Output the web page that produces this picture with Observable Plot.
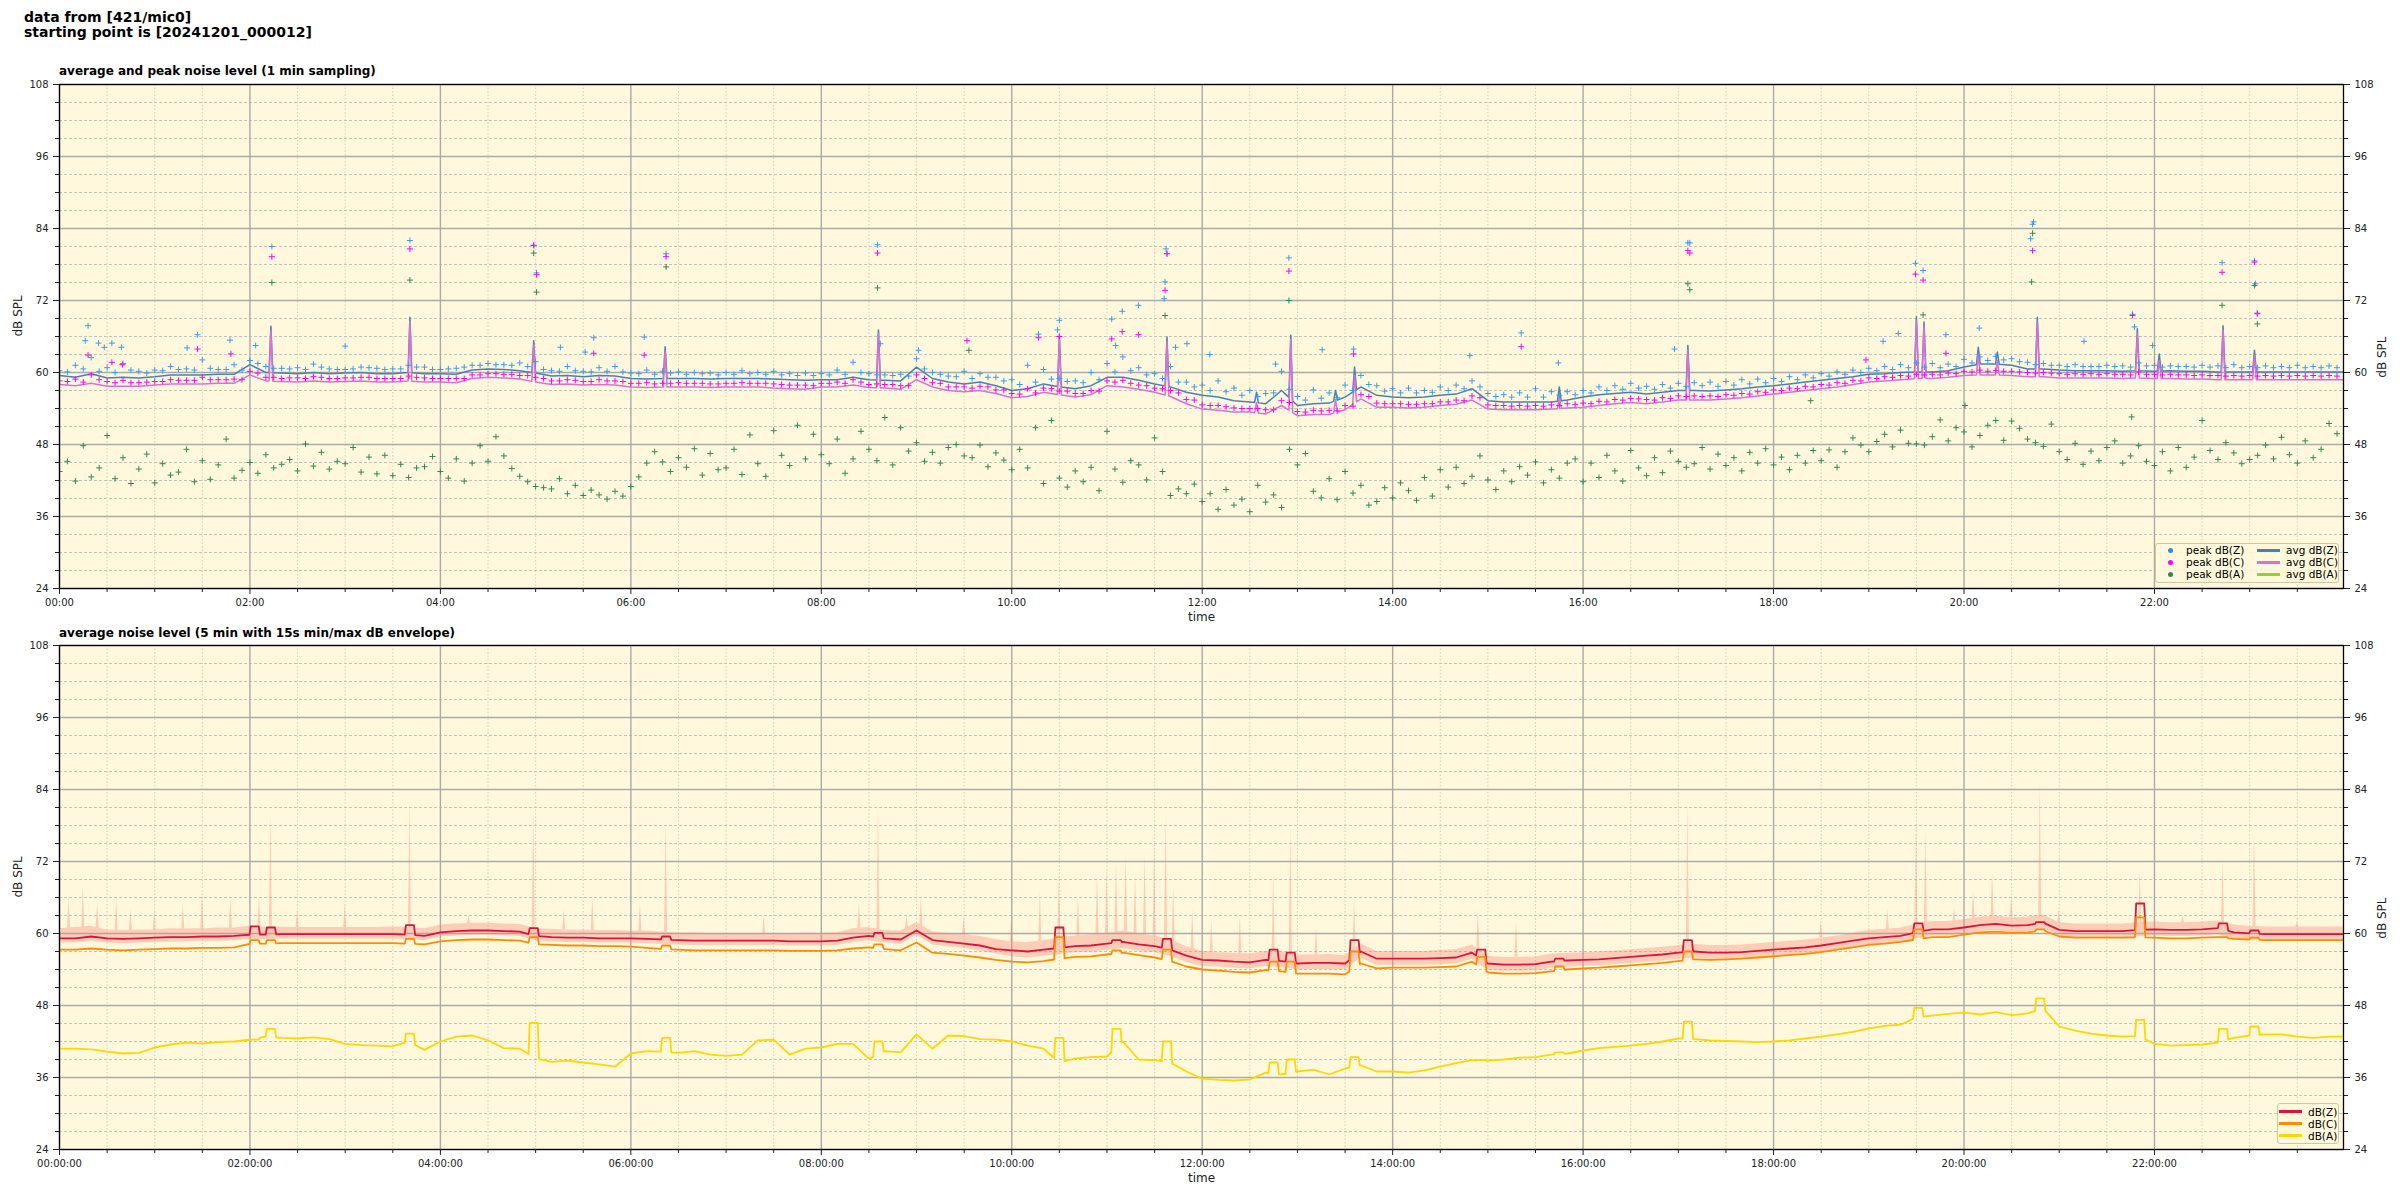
<!DOCTYPE html>
<html><head><meta charset="utf-8">
<script src="https://cdn.jsdelivr.net/npm/d3@7"></script>
<script src="https://cdn.jsdelivr.net/npm/@observablehq/plot@0.6"></script>
<style>
body{margin:0;background:#fff;font-family:"DejaVu Sans",sans-serif;color:#000;}
#page{position:relative;width:2400px;height:1200px;overflow:hidden;background:#fff;}
.title{position:absolute;left:24px;top:10px;font-weight:bold;font-size:14px;line-height:14.5px;white-space:nowrap;}
.sub{position:absolute;left:59px;font-weight:bold;font-size:12px;white-space:nowrap;line-height:14px;}
.plot{position:absolute;left:0;}
.legend{position:absolute;border:1px solid #dcc49a;border-radius:3px;background:rgba(255,248,220,0.85);font-size:10.5px;box-sizing:border-box;}
.legend .t{position:absolute;white-space:nowrap;line-height:12px;}
.legend .d{position:absolute;width:5px;height:5px;border-radius:50%;}
.legend .l{position:absolute;height:3px;}
</style></head>
<body>
<div id="page">
  <div class="title">data from [421/mic0]<br>starting point is [20241201_000012]</div>
  <div class="sub" style="top:64px">average and peak noise level (1 min sampling)</div>
  <div class="sub" style="top:626px">average noise level (5 min with 15s min/max dB envelope)</div>
  <div id="p1" class="plot" style="top:76px"></div>
  <div id="p2" class="plot" style="top:637px"></div>
  <div class="legend" style="left:2155px;top:543px;width:184px;height:40px">
    <div class="d" style="left:12px;top:4px;background:dodgerblue"></div><div class="t" style="left:30px;top:0px">peak dB(Z)</div>
    <div class="d" style="left:12px;top:16px;background:magenta"></div><div class="t" style="left:30px;top:12px">peak dB(C)</div>
    <div class="d" style="left:12px;top:28px;background:seagreen"></div><div class="t" style="left:30px;top:24px">peak dB(A)</div>
    <div class="l" style="left:101px;top:5px;width:23px;background:steelblue"></div><div class="t" style="left:130px;top:0px">avg dB(Z)</div>
    <div class="l" style="left:101px;top:17px;width:23px;background:orchid"></div><div class="t" style="left:130px;top:12px">avg dB(C)</div>
    <div class="l" style="left:101px;top:29px;width:23px;background:yellowgreen"></div><div class="t" style="left:130px;top:24px">avg dB(A)</div>
  </div>
  <div class="legend" style="left:2277px;top:1103px;width:62px;height:41px">
    <div class="l" style="left:1px;top:6px;width:23px;background:crimson"></div><div class="t" style="left:30px;top:2px">dB(Z)</div>
    <div class="l" style="left:1px;top:18px;width:23px;background:darkorange"></div><div class="t" style="left:30px;top:14px">dB(C)</div>
    <div class="l" style="left:1px;top:30px;width:23px;background:gold"></div><div class="t" style="left:30px;top:26px">dB(A)</div>
  </div>
</div>
<script>
// ---------- data (10-min slots, hour = index/6) ----------
const avgZ = [59.5,59.2,59.8,59.1,59.2,59.1, 59.3,59.6,59.6,59.6,59.7,59.7, 61.3,60.0,59.9,59.8,60.0,59.8, 59.9,60.0,59.8,59.8,60.0,59.8, 59.8,59.7,60.4,60.6,60.5,60.3, 59.9,59.4,59.5,59.3,59.5,59.4, 59.0,58.9,59.0,59.0,59.0,58.9, 59.0,59.0,59.0,58.9,58.8,58.7, 58.8,58.8,59.2,58.8,58.7,58.6, 60.9,59.0,58.4,58.1,58.4,57.8, 57.0,57.3,58.1,57.6,57.3,57.8, 59.2,59.2,58.7,58.1,57.6,56.7, 56.2,55.9,55.3,55.1,54.8,57.0, 54.5,54.8,54.9,55.9,57.6,56.2, 55.9,55.8,55.9,56.2,56.4,57.3, 55.3,55.1,55.1,55.1,55.1,55.4, 55.9,56.3,56.5,56.7,56.4,56.7, 57.0,57.0,56.9,57.1,57.3,57.6, 57.8,58.1,58.4,58.7,59.0,59.3, 59.7,59.8,60.0,60.1,60.1,60.3, 60.9,61.4,61.4,61.2,60.6,60.6, 60.4,60.3,60.3,60.3,60.2,60.3, 60.2,60.3,60.2,60.2,60.1,60.1, 60.1,60.1,60.1,60.1,60.1,60.1, 60.1];
const avgC = [58.0,57.8,58.2,57.7,57.7,57.7, 57.9,58.1,58.1,58.1,58.2,58.2, 59.6,58.6,58.5,58.4,58.6,58.4, 58.5,58.6,58.4,58.4,58.6,58.4, 58.4,58.3,59.0,59.2,59.1,58.9, 58.4,58.0,58.1,57.9,58.0,57.9, 57.6,57.5,57.6,57.6,57.6,57.5, 57.6,57.6,57.6,57.4,57.3,57.2, 57.6,57.6,57.9,57.5,57.4,57.2, 58.8,57.6,57.0,56.8,57.0,56.5, 55.8,56.0,56.7,56.3,55.9,56.3, 57.8,57.6,57.2,56.7,56.0,54.8, 53.9,53.7,53.4,53.4,53.1,54.5, 52.8,53.0,53.0,53.8,55.6,54.2, 54.2,54.1,54.2,54.5,54.7,55.4, 53.9,53.8,53.8,53.8,53.9,54.1, 54.2,54.5,54.8,55.0,54.8,55.1, 55.4,55.4,55.4,55.6,55.8,56.1, 56.4,56.7,57.0,57.3,57.6,58.0, 58.4,58.6,58.8,59.0,59.0,59.2, 59.5,59.6,59.6,59.5,59.3,59.3, 59.1,59.1,59.1,59.1,59.0,59.1, 59.0,59.0,58.9,58.9,58.8,58.8, 58.8,58.8,58.8,58.8,58.8,58.8, 58.8];
const avgA = [41.4,41.4,40.9,40.6,40.1,40.3, 41.4,41.7,42.2,42.1,42.0,41.7, 42.6,43.1,42.7,42.8,42.6,42.6, 42.3,41.4,41.2,41.4,40.9,41.4, 40.9,40.3,42.6,43.1,41.4,40.1, 39.5,38.7,38.1,38.1,38.2,37.8, 38.7,40.9,40.6,40.6,40.3,40.1, 40.6,40.9,41.4,43.7,40.3,41.2, 41.2,41.4,42.3,39.2,40.1,40.3, 43.1,42.8,43.4,42.6,42.0,42.6, 42.8,41.4,38.7,38.5,37.8,37.6, 43.1,41.4,39.5,37.6,37.3,37.0, 35.9,35.3,35.0,34.8,37.6,35.3, 35.0,36.4,37.0,34.2,37.0,37.0, 36.4,36.7,37.6,38.7,38.7,39.2, 38.4,39.2,38.7,39.2,39.8,39.2, 39.8,40.1,40.6,41.2,41.7,42.0, 42.8,43.1,42.8,42.8,42.8,42.6, 42.6,42.3,42.0,43.7,43.4,42.8, 45.1,45.1,45.3,45.3,45.6,45.3, 45.9,47.0,47.6,46.4,46.4,47.0, 43.9,43.9,43.4,43.1,42.6,42.6, 41.4,41.7,40.9,42.0,41.7,43.1, 43.7,44.5,44.5,43.4,42.6,43.1, 43.0];
// one-minute spikes of the averages: [hour, Z, C, A]
const avgSpikes = [[2.22,67.7,67.0,56.9],[3.68,69.2,68.5,66],[4.98,65.3,64.6,64],[6.36,64.3,63.6,57],[7.52,null,null,45.3],[8.6,67.1,66.4,56],[10.5,66.2,65.5,49.7],[11.1,null,null,45.8],[11.63,65.9,65.2,60],[12.57,56.7,55,44.8],[12.93,66.2,65.5,60],[13.4,57,55.5,44.5],[13.6,60.9,59.5,42],[15.75,57.6,56,44.5],[17.1,64.5,63.8,53.9],[19.5,69.3,68.6,58],[19.58,68.4,67.7,56],[20.15,64.2,63,47.6],[20.35,63.4,62,50.3],[20.77,69.2,68.5,62],[21.82,67.3,66.5,50],[22.05,63.1,62,45],[22.72,67.8,67.1,57],[23.05,63.7,62.8,56.7]];

// peak readings, 10-min slots and the readings 5 min later
const peakZ = [60.3,61.2,62.5,60.8,61.5,60.2, 60.4,61.0,60.6,62.1,60.5,61.3, 62.0,61.0,60.7,60.8,61.4,60.6, 60.5,60.9,60.7,60.6,61.2,60.9, 60.5,60.7,61.2,61.5,61.3,61.6, 61.8,60.3,61.0,60.2,60.8,61.0, 59.9,60.4,60.2,60.1,60.0,59.9, 60.0,60.3,60.0,60.2,59.8,59.9, 59.8,60.4,61.7,59.8,59.6,59.7, 62.3,60.0,59.4,60.2,59.8,59.2, 58.8,61.2,60.5,59.0,58.6,60.0, 61.5,62.6,60.8,59.8,61.0,58.4, 57.9,58.6,57.4,57.0,56.5,60.2, 56.0,57.1,56.6,57.9,59.5,57.8, 57.3,57.4,57.0,57.6,57.9,58.6, 56.5,56.3,56.6,57.3,56.8,56.8, 57.0,57.6,57.8,58.2,57.7,58.0, 58.2,58.3,58.4,58.5,58.8,58.9, 59.0,59.3,59.6,59.8,60.1,60.4, 60.7,61.0,61.3,61.6,61.5,61.4, 62.2,62.6,62.7,62.3,61.7,61.5, 61.2,61.3,61.0,61.2,61.1,61.6, 61.2,61.1,61.0,61.2,61.1,61.3, 61.0,61.1,61.0,61.2,61.0,61.1];
const peakZb = [60.1,60.6,60.2,60.0,60.4,59.9, 60.3,60.5,60.4,60.7,60.5,60.4, 61.5,60.7,60.6,60.5,60.9,60.5, 60.6,60.8,60.5,60.6,60.9,60.5, 60.6,60.9,61.2,61.3,61.2,61.0, 60.5,60.2,60.3,60.1,60.2,60.1, 59.8,59.7,59.9,59.7,59.8,59.6, 59.7,59.8,59.7,59.6,59.5,59.5, 59.6,59.7,60.0,59.6,59.5,59.4, 60.6,59.7,59.3,59.0,59.2,58.6, 58.0,58.4,58.9,58.5,58.3,58.8, 60.1,60.3,59.6,59.0,58.4,57.6, 57.0,56.8,56.2,56.0,56.6,57.2, 55.4,55.7,55.8,57.0,58.0,56.9, 56.6,56.6,56.7,57.0,57.3,57.6, 56.0,55.9,55.9,55.9,56.2,56.3, 56.6,57.0,57.2,57.4,57.2,57.4, 57.7,57.8,57.7,57.9,58.1,58.3, 58.5,58.8,59.1,59.4,59.7,60.0, 60.3,60.5,60.8,60.9,60.8,61.0, 61.6,62.0,62.1,61.8,61.3,61.2, 61.0,61.0,61.0,61.0,60.9,61.1, 60.9,61.0,60.9,60.9,60.8,60.8, 60.8,60.8,60.8,60.8,60.8,60.8];
const peakC = [58.6,58.9,59.6,58.5,58.7,58.3, 58.5,58.8,58.7,59.2,58.8,58.9, 60.2,59.2,59.0,59.1,59.3,59.0, 59.1,59.2,59.0,59.0,59.4,59.1, 59.0,59.0,59.6,59.8,59.7,59.5, 59.2,58.6,58.8,58.5,58.8,58.6, 58.2,58.3,58.2,58.3,58.2,58.1, 58.2,58.3,58.2,58.1,57.9,57.9, 58.2,58.4,58.8,58.0,58.0,57.8, 59.6,58.3,57.6,57.6,57.7,57.1, 56.5,57.3,57.4,56.9,56.5,57.0, 58.6,58.7,57.9,57.4,57.0,55.5, 54.6,54.5,54.1,54.0,53.8,55.3, 53.5,53.7,53.7,54.5,56.3,54.9, 54.8,54.7,54.8,55.1,55.4,56.1, 54.6,54.5,54.5,54.5,54.6,54.8, 54.9,55.2,55.5,55.7,55.5,55.8, 56.1,56.1,56.1,56.3,56.5,56.8, 57.1,57.4,57.7,58.0,58.3,58.7, 59.1,59.3,59.5,59.7,59.7,59.9, 60.2,60.4,60.3,60.2,60.0,60.0, 59.8,59.8,59.8,59.8,59.7,60.1, 59.7,59.7,59.6,59.6,59.5,59.5, 59.5,59.5,59.5,59.5,59.5,59.5];
const peakCb = [58.5,58.4,58.8,58.3,58.3,58.4, 58.5,58.7,58.7,58.8,58.8,58.8, 59.9,59.2,59.1,59.0,59.2,59.0, 59.1,59.2,59.0,59.0,59.2,59.0, 59.0,59.0,59.6,59.8,59.7,59.5, 59.0,58.6,58.7,58.5,58.6,58.5, 58.2,58.1,58.2,58.2,58.2,58.1, 58.2,58.2,58.2,58.0,57.9,57.8, 58.2,58.2,58.4,58.1,58.0,57.8, 59.0,58.2,57.6,57.4,57.6,57.1, 56.4,56.6,57.3,56.9,56.5,56.9, 58.4,58.2,57.8,57.3,56.6,55.4, 54.5,54.3,54.0,54.0,53.8,55.0, 53.4,53.6,53.6,54.4,56.0,54.8, 54.8,54.7,54.8,55.1,55.3,55.8, 54.5,54.4,54.4,54.4,54.5,54.7, 54.8,55.1,55.4,55.6,55.4,55.7, 56.0,56.0,56.0,56.2,56.4,56.7, 57.0,57.3,57.6,57.9,58.2,58.6, 59.0,59.2,59.4,59.6,59.6,59.8, 60.1,60.2,60.2,60.1,59.9,59.9, 59.7,59.7,59.7,59.7,59.6,59.7, 59.6,59.6,59.5,59.5,59.4,59.4, 59.4,59.4,59.4,59.4,59.4,59.4];
// peak dB(A), 5-min slots (hour = index/12)
const peakA = [43.5,45.2,41.9,47.8,42.6,44.1,49.5,42.3,45.8,41.5,43.9,46.4, 41.6,44.8,42.9,43.4,47.2,41.8,45.3,42.2,44.6,48.9,42.4,43.7, 45.0,43.2,46.3,44.1,44.7,45.5,43.6,48.1,44.4,46.7,43.9,45.2, 44.8,47.5,43.4,45.9,43.1,46.2,42.8,44.7,42.5,44.1,44.3,46.0, 43.5,42.4,45.6,41.9,44.9,47.8,45.2,49.3,46.1,44.0,42.7,41.8, 41.0,40.8,40.6,42.3,39.8,41.2,39.5,40.4,39.6,38.9,40.2,39.4, 41.0,42.6,44.9,46.8,45.1,43.5,45.8,44.2,47.3,42.9,46.5,43.8, 44.1,47.2,43.0,49.6,44.8,42.7,50.3,46.2,44.5,51.2,45.6,49.7, 46.3,44.8,48.9,43.2,45.6,50.2,47.2,45.3,52.5,44.6,50.8,46.9, 48.3,45.2,46.7,44.9,47.5,48.0,46.1,45.8,47.9,44.3,46.6,45.4, 43.8,47.2,44.1,50.8,41.5,52.0,42.4,40.9,43.6,41.8,44.2,40.3, 50.2,43.9,41.7,45.3,44.6,42.1,49.1,43.5,39.5,40.6,39.8,41.4, 38.5,39.8,37.2,40.5,37.9,38.9,36.8,41.2,38.4,39.6,37.5,47.2, 44.6,46.5,40.2,39.1,42.3,38.8,43.5,39.9,41.2,37.9,38.5,40.8, 39.1,41.6,40.3,38.7,42.5,39.4,43.8,40.9,44.2,41.5,42.7,46.1, 42.1,40.5,43.6,41.8,44.3,42.9,45.1,41.6,43.8,42.4,44.9,45.6, 41.8,44.9,42.5,46.2,43.6,41.9,47.0,44.1,42.8,45.8,43.3,46.9, 45.2,44.2,44.8,47.5,43.9,46.4,44.5,45.8,43.6,46.7,44.9,47.3, 44.6,45.9,43.8,46.2,44.9,47.0,45.3,47.1,44.2,46.8,49.1,47.9, 46.8,48.5,49.7,47.6,50.4,48.2,48.1,47.9,49.3,52.1,48.6,50.8, 50.1,47.6,49.5,51.2,52.0,48.7,51.9,50.7,48.9,48.3,47.7,51.4, 46.8,45.5,48.2,44.7,46.9,45.3,47.5,48.6,44.9,46.1,47.8,45.2, 44.5,46.8,43.6,47.5,44.2,45.9,52.0,47.0,45.5,48.3,46.6,44.8, 45.5,46.2,47.9,45.6,49.2,46.3,44.9,48.6,45.8,47.2,51.5,49.8];
// isolated peak readings: [hour, dB]
const peakZOut = [[0.27,65.3],[0.30,67.8],[0.41,64.9],[0.47,64.2],[0.55,64.9],[0.65,64.2],[1.34,64.1],[1.45,66.3],[1.79,65.4],[2.06,64.5],[2.23,81.0],[3.0,64.4],[3.68,82.0],[4.98,81.2],[5.01,76.6],[5.26,64.2],[5.52,63.4],[5.61,65.8],[6.14,65.9],[6.37,79.8],[8.59,81.3],[8.62,64.8],[9.02,63.7],[10.28,66.4],[10.48,67.1],[10.5,68.7],[11.05,68.9],[11.09,64.5],[11.16,70.2],[11.33,71.2],[11.6,72.3],[11.61,75.1],[11.62,80.6],[11.63,79.8],[11.72,64.2],[11.84,64.8],[12.08,63.0],[12.77,61.4],[12.91,79.1],[13.26,63.8],[13.59,63.9],[14.81,62.8],[15.35,66.6],[15.74,61.6],[16.96,63.9],[17.1,81.6],[17.12,81.6],[19.15,65.2],[19.31,66.5],[19.49,78.2],[19.57,77.0],[19.81,66.3],[20.16,67.4],[20.7,82.3],[20.72,84.7],[20.73,85.1],[21.26,65.2],[21.77,69.7],[21.79,67.6],[21.98,64.5],[22.71,78.3],[23.05,78.6],[23.06,74.8],[23.08,69.9]];
const peakCOut = [[0.3,62.9],[0.55,61.7],[0.66,61.3],[1.45,63.9],[1.8,63.1],[2.23,79.3],[3.68,80.6],[4.98,81.2],[5.01,76.3],[5.61,63.2],[6.14,62.9],[6.37,79.3],[8.59,79.9],[9.53,65.3],[10.28,65.8],[10.5,66.0],[11.05,65.6],[11.16,66.8],[11.33,66.3],[11.61,73.7],[11.63,79.8],[12.91,76.9],[13.59,63.1],[15.35,64.3],[17.1,80.3],[17.12,79.9],[18.97,62.1],[19.49,76.4],[19.57,75.4],[19.81,63.2],[20.72,80.3],[21.77,69.5],[22.71,76.7],[23.05,78.4],[23.08,69.8]];
const peakAOut = [[2.23,75.0],[3.68,75.4],[4.98,79.9],[5.01,73.4],[6.37,77.6],[8.59,74.1],[9.55,63.7],[11.61,69.5],[12.91,72.0],[17.1,74.8],[17.12,73.8],[18.39,55.3],[19.57,69.6],[20.01,54.5],[20.71,75.1],[20.72,83.2],[21.76,52.6],[22.71,71.2],[23.05,74.5],[23.08,68.1]];

// bottom panel: 5-min averages (10-min slots)
const lvlZ = [59.2,59.2,59.5,59.2,59.1,59.2, 59.3,59.4,59.4,59.5,59.5,59.6, 59.8,59.8,59.9,59.9,59.9,59.9, 59.9,59.9,59.9,59.9,59.8,59.6, 60.2,60.4,60.5,60.5,60.4,60.3, 59.6,59.4,59.3,59.3,59.2,59.2, 59.2,59.1,59.0,58.9,58.8,58.8, 58.8,58.8,58.8,58.8,58.7,58.7, 58.7,58.8,59.3,59.6,59.2,59.0, 60.5,58.9,58.6,58.3,58.0,57.4, 57.2,57.0,57.3,57.6,57.9,58.0, 58.3,58.6,58.2,57.9,57.3,56.3, 55.6,55.5,55.3,55.2,55.6,55.4, 55.0,55.1,55.1,55.0,57.0,55.8, 55.8,55.8,55.8,55.9,56.0,56.8, 55.0,54.8,54.8,54.9,55.3,55.5, 55.6,55.7,55.9,56.1,56.3,56.5, 56.8,57.0,56.8,56.8,56.9,57.1, 57.3,57.5,57.7,58.0,58.4,58.8, 59.2,59.4,59.6,60.2,60.7,60.7, 61.0,61.4,61.6,61.3,61.4,61.8, 60.6,60.4,60.4,60.4,60.4,60.6, 60.7,60.6,60.6,60.7,60.9,60.2, 60.0,59.9,59.9,59.9,59.9,59.9, 59.9];
const lvlC = [57.3,57.3,57.5,57.3,57.2,57.3, 57.4,57.5,57.5,57.6,57.6,57.7, 58.3,58.3,58.4,58.4,58.4,58.4, 58.4,58.4,58.4,58.4,58.3,58.2, 58.7,58.9,59.0,59.0,58.9,58.8, 58.2,58.1,58.0,58.0,57.9,57.9, 57.8,57.6,57.4,57.3,57.2,57.2, 57.2,57.2,57.2,57.2,57.1,57.1, 57.1,57.2,57.5,57.7,57.4,57.2, 58.5,56.8,56.6,56.3,56.0,55.6, 55.3,55.2,55.4,55.8,56.1,56.2, 56.5,56.8,56.4,56.0,55.4,54.5, 54.0,53.8,53.6,53.5,53.9,53.7, 53.3,53.3,53.3,53.2,55.0,54.2, 54.3,54.3,54.3,54.4,54.5,55.3, 53.5,53.3,53.3,53.4,53.7,54.0, 54.2,54.3,54.5,54.7,54.9,55.1, 55.4,55.7,55.6,55.7,55.8,56.0, 56.2,56.4,56.6,56.9,57.3,57.7, 58.1,58.3,58.6,59.0,59.4,59.4, 59.8,60.2,60.3,60.1,60.2,60.5, 59.5,59.3,59.3,59.3,59.3,59.4, 59.3,59.2,59.2,59.3,59.4,59.1, 59.0,58.9,58.9,58.9,58.9,58.9, 58.9];
const lvlA = [40.8,40.8,40.7,40.3,40.0,40.1, 41.0,41.5,41.8,41.7,41.9,42.0, 42.3,42.8,42.6,42.5,42.7,42.4, 41.6,41.4,41.3,41.2,42.0,40.6, 42.0,42.8,43.0,42.2,40.9,40.8, 39.2,38.6,38.8,38.5,38.2,37.8, 40.0,40.4,40.3,40.1,40.4,39.8, 39.6,39.8,42.2,42.3,39.8,40.8, 41.0,41.6,41.6,39.1,40.4,40.2, 43.2,40.8,43.0,42.9,42.4,42.3, 42.0,41.3,40.8,38.5,39.2,39.4, 39.5,42.0,39.0,38.9,38.5,37.0, 35.8,35.6,35.5,35.7,36.8,36.5, 37.0,37.3,36.5,37.5,38.0,37.0, 37.0,36.8,37.2,37.8,38.4,38.9, 38.8,39.0,39.3,39.4,39.8,40.0, 40.5,40.9,41.1,41.3,41.6,42.0, 42.5,42.4,42.2,42.1,42.0,41.9, 42.0,42.2,42.5,42.8,43.2,43.6, 44.2,44.6,44.8,46.0,46.3,46.6, 46.8,46.5,46.9,46.4,46.7,47.5, 44.5,43.8,43.3,43.0,42.8,42.9, 41.6,41.3,41.4,41.5,41.8,42.6, 43.0,43.2,43.2,42.8,42.6,42.8, 42.8];
// 5-min blocks containing a loud event: [hour, Z, C, A]
const lvlBumps = [[2.05,61.2,58.9,42.3],[2.22,61.0,58.9,44.1],[3.68,61.4,59.1,43.3],[4.98,60.9,59.4,45.1],[6.37,59.5,58.0,42.6],[8.6,60.1,58.2,42.0],[10.5,61.0,59.4,42.6],[11.1,58.9,57.2,44.1],[11.63,59.1,57.3,42.0],[12.75,57.3,55.3,38.5],[12.93,56.8,55.3,39.0],[13.6,58.9,57.0,39.4],[14.93,57.3,56.1,38.9],[15.75,55.8,54.5,40.2],[17.1,58.9,57.0,45.3],[19.52,61.7,60.7,47.6],[20.8,61.9,60.7,49.2],[21.85,65.0,62.7,45.6],[22.72,61.7,59.4,44.1],[23.05,60.5,59.3,44.5]];
// 15 s min/max envelope of dB(Z)
const envLow = [58.4,58.4,58.7,58.4,58.3,58.4, 58.5,58.6,58.6,58.7,58.7,58.8, 59.0,59.0,59.1,59.1,59.1,59.1, 59.1,59.1,59.1,59.1,59.0,58.8, 59.4,59.6,59.7,59.7,59.6,59.5, 58.8,58.6,58.5,58.5,58.4,58.4, 58.4,58.3,58.2,58.1,58.0,58.0, 58.0,58.0,58.0,58.0,57.9,57.9, 57.9,58.0,58.5,58.8,58.4,58.2, 59.7,58.1,57.8,57.5,57.1,56.6, 56.1,55.9,56.2,56.5,56.8,56.9, 57.2,57.5,57.1,56.8,56.2,55.2, 54.5,54.4,54.2,54.1,54.5,54.3, 53.9,54.0,54.0,53.9,55.9,54.7, 54.7,54.7,54.7,54.8,54.9,55.7, 53.9,53.7,53.7,53.8,54.2,54.4, 54.5,54.6,54.8,55.0,55.2,55.4, 55.7,55.9,55.7,55.7,55.8,56.0, 56.2,56.4,56.6,56.9,57.3,57.7, 58.1,58.3,58.5,59.1,59.6,59.6, 59.9,60.3,60.5,60.2,60.3,60.7, 59.5,59.3,59.3,59.3,59.3,59.5, 59.6,59.5,59.5,59.6,59.8,59.1, 58.9,58.8,58.8,58.8,58.8,58.8, 58.8];
const envHigh = [60.8,61.0,61.2,60.6,60.5,60.6, 60.6,60.8,60.8,60.8,60.9,60.9, 61.2,61.0,61.1,61.0,61.0,61.0, 61.0,61.0,61.0,61.1,61.0,60.8, 61.4,61.6,61.7,61.7,61.6,61.5, 60.8,60.7,60.6,60.6,60.5,60.5, 60.4,60.4,60.2,60.1,60.1,60.0, 60.0,60.0,60.0,60.0,59.9,60.1, 60.0,60.1,60.8,61.0,60.5,60.4, 61.8,60.3,60.0,59.8,59.5,59.0, 58.6,58.5,58.8,59.3,59.6,59.8, 60.0,60.4,60.0,59.6,59.0,57.8, 57.0,56.8,56.7,56.6,57.0,56.9, 56.4,56.4,56.5,56.3,58.3,57.0, 57.0,57.0,57.0,57.2,57.3,58.1, 56.2,56.0,56.0,56.1,56.6,56.7, 56.8,56.9,57.1,57.3,57.5,57.7, 58.0,58.2,58.0,58.0,58.1,58.3, 58.5,58.7,58.9,59.2,59.6,60.0, 60.5,60.7,60.9,61.5,62.0,62.0, 62.3,62.7,62.9,62.6,62.7,63.1, 61.8,61.6,61.6,61.6,61.6,61.8, 61.9,61.8,61.8,61.9,62.1,61.4, 61.2,61.1,61.1,61.1,61.1,61.1, 61.1];
// short loud 15 s maxima: [hour, dB]
const envSpikes = [[0.1,66],[0.25,68],[0.4,65],[0.6,66],[0.75,64],[1.0,64],[1.3,65],[1.5,67],[1.8,66],[2.1,66],[2.22,80],[2.5,64],[3.0,65],[3.68,82],[4.3,63],[4.98,81],[5.3,64],[5.6,66],[6.1,65],[6.37,79],[7.4,63],[8.4,65],[8.6,81],[8.9,63],[9.05,66],[9.5,63],[10.0,63],[10.3,67],[10.5,70],[10.7,66],[10.9,70],[11.0,71],[11.1,72],[11.2,73],[11.3,70],[11.4,73],[11.5,75],[11.62,80],[11.7,68],[11.9,64],[12.1,62],[12.4,63],[12.75,70],[12.93,78],[13.2,61],[13.6,66],[14.9,64],[15.3,62],[17.1,82],[18.5,62],[19.2,64],[19.5,78],[19.6,77],[19.9,64],[20.1,67],[20.3,70],[20.5,66],[20.8,85],[21.0,64],[21.85,70],[22.3,63],[22.72,72],[23.05,77],[23.5,62]];

// axis ticks
const yMajor = [24,36,48,60,72,84,96,108];
const yMinor = d3.range(27,108,3).filter(v => v % 12 !== 0);
const xMajor = d3.range(0,24,2);
const xMinor = d3.range(0.5,24,0.5).filter(v => v % 2 !== 0);

// ---------- helpers ----------
const slot = (n, off = 0) => (v, i) => ({h: i / n + off, v});
function interp(vals, h) {
  const i = Math.max(0, Math.min(Math.floor(h * 6), vals.length - 2));
  const t = h * 6 - i;
  return vals[i] * (1 - t) + vals[i + 1] * t;
}
function withSpikes(vals, events, col, w) {
  const ev = events.filter(e => e[col] != null);
  const pts = vals.map(slot(6)).filter(p => !ev.some(e => Math.abs(p.h - e[0]) <= w));
  for (const e of ev) {
    pts.push({h: e[0] - w, v: interp(vals, e[0] - w)}, {h: e[0], v: e[col]}, {h: e[0] + w, v: interp(vals, e[0] + w)});
  }
  return pts.sort((a, b) => a.h - b.h);
}
function withBumps(vals, events, col) {
  const W = 0.055, w = 0.042;
  const pts = vals.map(slot(6)).filter(p => !events.some(e => Math.abs(p.h - e[0]) <= W));
  for (const e of events) {
    const v = e[col];
    pts.push({h: e[0] - W, v: interp(vals, e[0] - W)}, {h: e[0] - w, v}, {h: e[0] + w, v}, {h: e[0] + W, v: interp(vals, e[0] + W)});
  }
  return pts.sort((a, b) => a.h - b.h);
}
const pairs = arr => arr.map(([h, v]) => ({h, v}));
const hm = h => { const hh = Math.floor(h + 1e-6), mm = Math.round((h - hh) * 60); return String(hh).padStart(2, "0") + ":" + String(mm).padStart(2, "0"); };

function frameMarks(xfmt) {
  return {
    under: [
      Plot.frame({fill: "cornsilk", stroke: null}),
      Plot.ruleY(yMinor, {stroke: "#b4b4b4", strokeWidth: 0.8, strokeDasharray: "3,2"}),
      Plot.ruleX(xMinor, {stroke: "#c9c4b4", strokeWidth: 0.8, strokeDasharray: "1.5,2"}),
      Plot.ruleY(yMajor, {stroke: "#aaaaaa", strokeWidth: 1.4}),
      Plot.ruleX(xMajor, {stroke: "#aaaaaa", strokeWidth: 1.4})
    ],
    over: [
      Plot.frame({stroke: "#000", strokeWidth: 1.3}),
      Plot.axisY(yMajor, {anchor: "left", tickSize: 6, tickPadding: 5, label: null, fontSize: 10}),
      Plot.axisY(yMinor, {anchor: "left", tickSize: 4, fill: "none", label: null}),
      Plot.axisY(yMajor, {anchor: "right", tickSize: 6, tickPadding: 5, label: null, fontSize: 10}),
      Plot.axisY(yMinor, {anchor: "right", tickSize: 4, fill: "none", label: null}),
      Plot.axisX(xMajor, {anchor: "bottom", tickSize: 6, tickPadding: 4, tickFormat: xfmt, label: null, fontSize: 10}),
      Plot.axisX(xMinor, {anchor: "bottom", tickSize: 4, fill: "none", label: null}),
      Plot.text(["dB SPL"], {frameAnchor: "left", dx: -41, rotate: -90, fontSize: 12}),
      Plot.text(["dB SPL"], {frameAnchor: "right", dx: 39, rotate: -90, fontSize: 12}),
      Plot.text(["time"], {frameAnchor: "bottom", dy: 32, fontSize: 12})
    ]
  };
}
const common = {
  width: 2400, marginLeft: 59, marginRight: 57, marginTop: 8,
  style: {background: "transparent", fontFamily: "DejaVu Sans", fontSize: "10px", color: "#222", overflow: "visible"},
  x: {domain: [0, 23.985], axis: null},
  y: {domain: [24, 108], axis: null}
};

// ---------- top panel ----------
const f1 = frameMarks(hm);
const dotOpts = (color) => ({x: "h", y: "v", symbol: "plus", r: 2.1, stroke: color, strokeWidth: 1, clip: true});
const zPts = peakZ.map(slot(6)).concat(peakZb.map(slot(6, 1 / 12)), pairs(peakZOut));
const cPts = peakC.map(slot(6)).concat(peakCb.map(slot(6, 1 / 12)), pairs(peakCOut));
const aPts = peakA.map(slot(12)).concat(pairs(peakAOut));
const p1 = Plot.plot({
  ...common, height: 552, marginBottom: 40,
  marks: [
    ...f1.under,
    Plot.line(withSpikes(avgZ, avgSpikes, 1, 0.02), {x: "h", y: "v", stroke: "steelblue", strokeWidth: 1.5, clip: true}),
    Plot.line(withSpikes(avgC, avgSpikes, 2, 0.02), {x: "h", y: "v", stroke: "orchid", strokeWidth: 1.5, clip: true}),
    Plot.dot(zPts, dotOpts("#3b9bf5")),
    Plot.dot(cPts, dotOpts("magenta")),
    Plot.dot(aPts, dotOpts("seagreen")),
    Plot.line(withSpikes(avgA, avgSpikes, 3, 0.02), {x: "h", y: "v", stroke: "yellowgreen", strokeWidth: 1.5, clip: true}),
    ...f1.over
  ]
});
document.getElementById("p1").appendChild(p1);

// ---------- bottom panel ----------
const SW = 0.016;
const envPts = envLow.map((lo, i) => ({h: i / 6, lo, hi: envHigh[i]}))
  .filter(p => !envSpikes.some(([h]) => Math.abs(p.h - h) <= SW));
for (const [h, m] of envSpikes) {
  envPts.push({h: h - SW, lo: interp(envLow, h - SW), hi: interp(envHigh, h - SW)},
              {h, lo: interp(envLow, h), hi: m},
              {h: h + SW, lo: interp(envLow, h + SW), hi: interp(envHigh, h + SW)});
}
envPts.sort((a, b) => a.h - b.h);
const f2 = frameMarks(h => hm(h) + ":00");
const p2 = Plot.plot({
  ...common, height: 559, marginBottom: 47,
  marks: [
    ...f2.under,
    Plot.areaY(envPts, {x: "h", y1: "lo", y2: "hi", fill: "salmon", fillOpacity: 0.35, clip: true}),
    Plot.line(withBumps(lvlZ, lvlBumps, 1), {x: "h", y: "v", stroke: "crimson", strokeWidth: 1.8, clip: true}),
    Plot.line(withBumps(lvlC, lvlBumps, 2), {x: "h", y: "v", stroke: "darkorange", strokeWidth: 1.8, clip: true}),
    Plot.line(withBumps(lvlA, lvlBumps, 3), {x: "h", y: "v", stroke: "gold", strokeWidth: 1.8, clip: true}),
    ...f2.over
  ]
});
document.getElementById("p2").appendChild(p2);
</script>
</body></html>
